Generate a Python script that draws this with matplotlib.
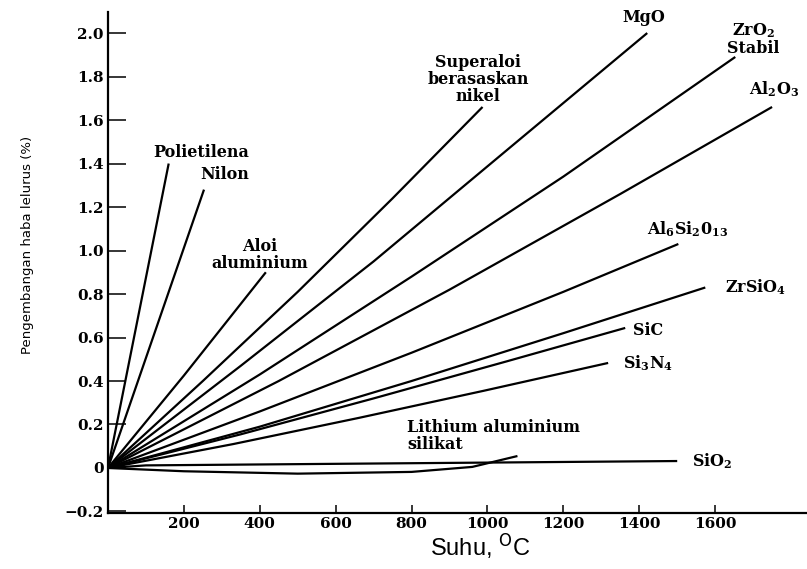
import matplotlib
matplotlib.use("Agg")
import matplotlib.pyplot as plt

plt.rcParams.update(
    {
        "font.family": "DejaVu Serif",
        "mathtext.fontset": "dejavuserif",
        "mathtext.default": "bf",
        "axes.spines.top": False,
        "axes.spines.right": False,
    }
)

# ── Data (suhu °C, pengembangan %) ─────────────────────────────────────────────
polietilena_T = [0, 160]
polietilena_y = [0.0, 1.40]
nilon_T = [0, 253]
nilon_y = [0.0, 1.28]
aloi_al_T = [0, 200, 416]
aloi_al_y = [0.0, 0.425, 0.90]
superaloi_T = [0, 250, 500, 750, 987]
superaloi_y = [0.0, 0.40, 0.81, 1.24, 1.66]
mgo_T = [0, 350, 700, 1050, 1421]
mgo_y = [0.0, 0.47, 0.95, 1.46, 2.00]
zro2_T = [0, 400, 800, 1200, 1653]
zro2_y = [0.0, 0.43, 0.88, 1.34, 1.89]
al2o3_T = [0, 450, 900, 1350, 1750]
al2o3_y = [0.0, 0.40, 0.82, 1.26, 1.66]
mullit_T = [0, 400, 800, 1200, 1503]
mullit_y = [0.0, 0.26, 0.53, 0.81, 1.03]
zrsio4_T = [0, 400, 800, 1200, 1574]
zrsio4_y = [0.0, 0.19, 0.40, 0.62, 0.83]
sic_T = [0, 350, 700, 1050, 1363]
sic_y = [0.0, 0.155, 0.32, 0.49, 0.644]
si3n4_T = [0, 330, 660, 990, 1318]
si3n4_y = [0.0, 0.11, 0.23, 0.355, 0.483]
sio2_T = [0, 100, 800, 1500]
sio2_y = [0.0, 0.012, 0.022, 0.032]
las_T = [0, 200, 500, 800, 960, 1079]
las_y = [0.0, -0.015, -0.026, -0.018, 0.005, 0.055]

series = [
    (polietilena_T, polietilena_y),
    (nilon_T, nilon_y),
    (aloi_al_T, aloi_al_y),
    (superaloi_T, superaloi_y),
    (mgo_T, mgo_y),
    (zro2_T, zro2_y),
    (al2o3_T, al2o3_y),
    (mullit_T, mullit_y),
    (zrsio4_T, zrsio4_y),
    (sic_T, sic_y),
    (si3n4_T, si3n4_y),
    (sio2_T, sio2_y),
    (las_T, las_y),
]

x_ticks = [200, 400, 600, 800, 1000, 1200, 1400, 1600]
y_ticks = [-0.2, 0, 0.2, 0.4, 0.6, 0.8, 1.0, 1.2, 1.4, 1.6, 1.8, 2.0]
y_ticklabels = ["\u22120.2", "0", "0.2", "0.4", "0.6", "0.8", "1.0",
                "1.2", "1.4", "1.6", "1.8", "2.0"]

# ── Figure ─────────────────────────────────────────────────────────────────────
fig = plt.figure(figsize=(8.07, 5.69), dpi=100)
ax = fig.add_axes([0.1338, 0.0984, 0.8662, 0.8806])

for T, y in series:
    ax.plot(T, y, color="black", linewidth=1.6, solid_capstyle="butt")

ax.set_xlim(0, 1842)
ax.set_ylim(-0.207, 2.097)
ax.set_xticks(x_ticks)
ax.set_yticks(y_ticks)
ax.set_yticklabels(y_ticklabels)
ax.tick_params(axis="y", direction="in", length=13, width=1.1, pad=3,
               labelsize=11)
ax.tick_params(axis="x", direction="in", length=6, width=1.1, pad=3,
               labelsize=11)
for lab in ax.get_xticklabels() + ax.get_yticklabels():
    lab.set_fontweight("bold")
for s in ("left", "bottom"):
    ax.spines[s].set_linewidth(1.6)

# label tiap bahan
txt = dict(fontsize=11.5, fontweight="bold", color="black", linespacing=1.0)
ax.text(245, 1.45, "Polietilena", ha="center", va="center", **txt)
ax.text(308, 1.35, "Nilon", ha="center", va="center", **txt)
ax.text(400, 0.98, "Aloi\naluminium", ha="center", va="center", **txt)
ax.text(976, 1.786, "Superaloi\nberasaskan\nnikel", ha="center", va="center", **txt)
ax.text(1411, 2.07, "MgO", ha="center", va="center", **txt)
ax.text(1700, 1.97, "ZrO$_2$\nStabil", ha="center", va="center", **txt)
ax.text(1690, 1.74, "Al$_2$O$_3$", ha="left", va="center", **txt)
ax.text(1526, 1.10, "Al$_6$Si$_2$0$_{13}$", ha="center", va="center", **txt)
ax.text(1626, 0.83, "ZrSiO$_4$", ha="left", va="center", **txt)
ax.text(1384, 0.63, "SiC", ha="left", va="center", **txt)
ax.text(1358, 0.48, "Si$_3$N$_4$", ha="left", va="center", **txt)
ax.text(789, 0.145, "Lithium aluminium\nsilikat", ha="left", va="center", **txt)
ax.text(1539, 0.032, "SiO$_2$", ha="left", va="center", **txt)

# label sumbu
fig.text(28 / 807, 1 - 245 / 569, "Pengembangan haba lelurus (%)",
         rotation=90, ha="center", va="center",
         family="DejaVu Sans", fontsize=9.5)
fig.text(480 / 807, 1 - 546 / 569, r"Suhu, $^{\mathsf{O}}$C",
         ha="center", va="center", family="Liberation Sans", fontsize=17)

fig.savefig("out.png", dpi=100)
